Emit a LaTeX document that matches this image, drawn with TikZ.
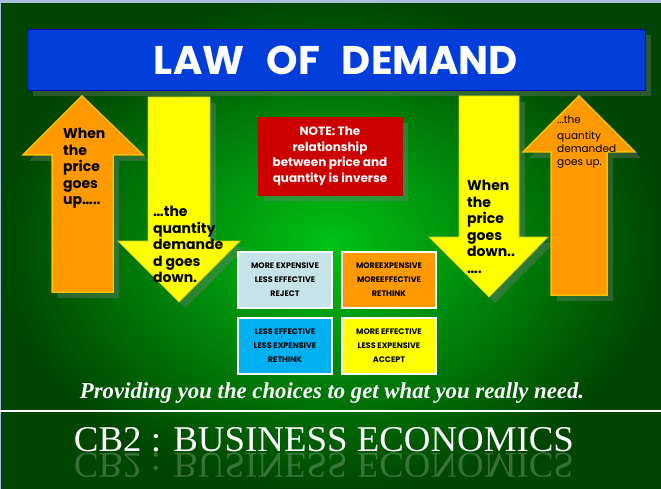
\documentclass[tikz,border=0pt]{standalone}
\usepackage{fontspec}
\setmainfont{Poppins}
\newfontfamily\serifed{Liberation Serif}
\usetikzlibrary{positioning,shadows}

\definecolor{bgin}{RGB}{0,195,20}
\definecolor{bgout}{RGB}{0,70,0}
\definecolor{barblue}{RGB}{0,62,220}
\definecolor{notered}{RGB}{205,0,0}
\definecolor{arrorange}{RGB}{255,153,0}
\definecolor{arryellow}{RGB}{255,255,0}
\definecolor{paleblue}{RGB}{198,228,232}
\definecolor{skyblue}{RGB}{0,176,240}
\definecolor{rimgray}{RGB}{168,192,220}

\begin{document}
\begin{tikzpicture}[x=1pt,y=-1pt,
  shade/.style={drop shadow={opacity=.35,shadow xshift=6pt,shadow yshift=-6pt}},
  uparrow/.style={fill=arrorange,draw=orange!50!yellow,line width=1.5pt,shade},
  downarrow/.style={fill=arryellow,draw=yellow!80!black,line width=.8pt,shade},
  arrowtext/.style={anchor=north west,inner sep=0pt,align=left,font=\fontsize{14}{16.5}\selectfont\bfseries},
  box/.style={draw=white,line width=1.5pt,minimum width=94pt,minimum height=56pt,inner sep=0pt,align=center,font=\fontsize{8}{14}\selectfont\bfseries}]
\useasboundingbox (0,0) rectangle (661,489);
\shade[inner color=bgin,outer color=bgout] (0,0) rectangle (661,489);
\fill[rimgray] (0,0) rectangle (661,3);
\fill[rimgray] (0,0) rectangle (1,489);

% title bar
\node[fill=barblue,draw=blue!70!black,minimum width=618pt,minimum height=61pt,text=white,shade,
  font=\fontsize{40}{40}\selectfont\bfseries] (T) at (336,60) {LAW\hspace{22pt}OF\hspace{22pt}DEMAND};

% price up, quantity down
\draw[uparrow] (52,292) -- (52,155) -- (23,155) -- (82,96) -- (143,155) -- (113,155) -- (113,292) -- cycle;
\draw[downarrow] (148,97) -- (210,97) -- (210,241) -- (240,241) -- (179,302) -- (118,241) -- (148,241) -- cycle;
\node[arrowtext] (PU) at (63,128) {When\\the\\price\\goes\\up…..};
\node[arrowtext] (QD) at (153,206) {…the\\quantity\\demande\\d goes\\down.};

% price down, quantity up
\draw[downarrow] (459,96) -- (519,96) -- (519,237) -- (548,237) -- (489,297) -- (429,237) -- (459,237) -- cycle;
\draw[uparrow] (551,295) -- (551,152) -- (523,152) -- (579,96) -- (635,152) -- (607,152) -- (607,295) -- cycle;
\node[arrowtext] (PD) at (467,180) {When\\the\\price\\goes\\down..\\….};
\node[anchor=north west,inner sep=0pt,align=left,font=\fontsize{10.5}{13}\selectfont] (QU) at (557,116)
  {...the\\[3pt]quantity\\demanded\\goes up.};

% note
\node[fill=notered,draw=red!75!black,minimum width=144pt,minimum height=78pt,text=white,align=center,shade,
  font=\fontsize{12}{15.5}\selectfont\bfseries] (N) at (330,156)
  {NOTE: The\\relationship\\between price and\\quantity is inverse};

% decision boxes
\node[box,fill=paleblue] (A) at (285,280) {MORE EXPENSIVE\\LESS EFFECTIVE\\REJECT};
\node[box,fill=arrorange,right of=A,node distance=104pt] (B) {MOREEXPENSIVE\\MOREEFFECTIVE\\RETHINK};
\node[box,fill=skyblue,below of=A,node distance=66pt] (C) {LESS EFFECTIVE\\LESS EXPENSIVE\\RETHINK};
\node[box,fill=arryellow,below of=B,node distance=66pt] (D) {MORE EFFECTIVE\\LESS EXPENSIVE\\ACCEPT};

% footer
\node[text=white,font=\serifed\bfseries\itshape] (P) at (332,393)
  {\resizebox{504pt}{!}{Providing you the choices to get what you really need.}};
\draw[white,line width=1.2pt] (0,411) -- (661,411);
\node[text=white,font=\serifed] (E) at (324,440) {\resizebox{500pt}{24pt}{CB2 : BUSINESS ECONOMICS}};
\begin{scope}[shift={(324,465)},yscale=-1]
\node[text=white,opacity=.22,font=\serifed,transform shape] (R) at (0,0) {\resizebox{500pt}{24pt}{CB2 : BUSINESS ECONOMICS}};
\end{scope}
\end{tikzpicture}
\end{document}
